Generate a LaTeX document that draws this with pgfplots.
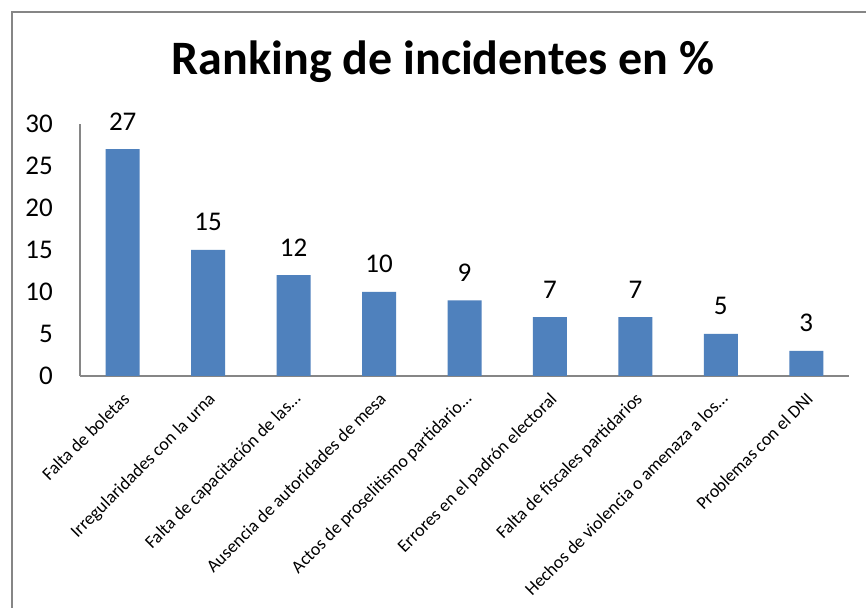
\documentclass[border=0pt]{standalone}
\usepackage{fontspec}
\setmainfont{Carlito}
\usepackage{pgfplots}
\pgfplotsset{compat=1.18}

\definecolor{barblue}{HTML}{4F81BD}
\definecolor{framegray}{HTML}{868686}

\begin{document}
\begin{tikzpicture}
\clip (0,0) rectangle (866pt,607pt);
\fill[white] (0,0) rectangle (866pt,607pt);
% outer chart frame (cropped at right and bottom)
\draw[framegray, line width=1.5pt] (12pt,-5pt) -- (12pt,595pt) -- (875pt,595pt);
\node[font=\fontsize{48}{54}\selectfont\bfseries] at (443pt,545pt) {Ranking de incidentes en \%};
\begin{axis}[
    at={(80pt,231pt)}, anchor=south west,
    scale only axis, width=769pt, height=252pt,
    xmin=-0.5, xmax=8.5, ymin=0, ymax=30,
    axis x line*=bottom, axis y line*=left,
    axis line style={framegray, line width=1.2pt},
    major tick length=0pt,
    ytick={0,5,...,30},
    xtick=data,
    xticklabels={Falta de boletas, Irregularidades con la urna, Falta de capacitación de las\dots, Ausencia de autoridades de mesa, Actos de proselitismo partidario\dots, Errores en el padrón electoral, Falta de fiscales partidarios, Hechos de violencia o amenaza a los\dots, Problemas con el DNI},
    /pgf/number format/assume math mode=true,
    yticklabel style={font=\fontsize{27}{31}\selectfont, inner sep=0pt, xshift=-27pt},
    xticklabel style={font=\fontsize{18}{22}\selectfont, xshift=8pt, yshift=-24pt, rotate=45, anchor=base east, inner sep=0pt},
    ybar, bar width=34pt,
    nodes near coords,
    every node near coord/.append style={font=\fontsize{27}{31}\selectfont, anchor=base, inner sep=0pt, yshift=19pt},
]
\addplot[fill=barblue, draw=none] coordinates {
    (0,27) (1,15) (2,12) (3,10) (4,9) (5,7) (6,7) (7,5) (8,3)
};
\end{axis}
\end{tikzpicture}
\end{document}
